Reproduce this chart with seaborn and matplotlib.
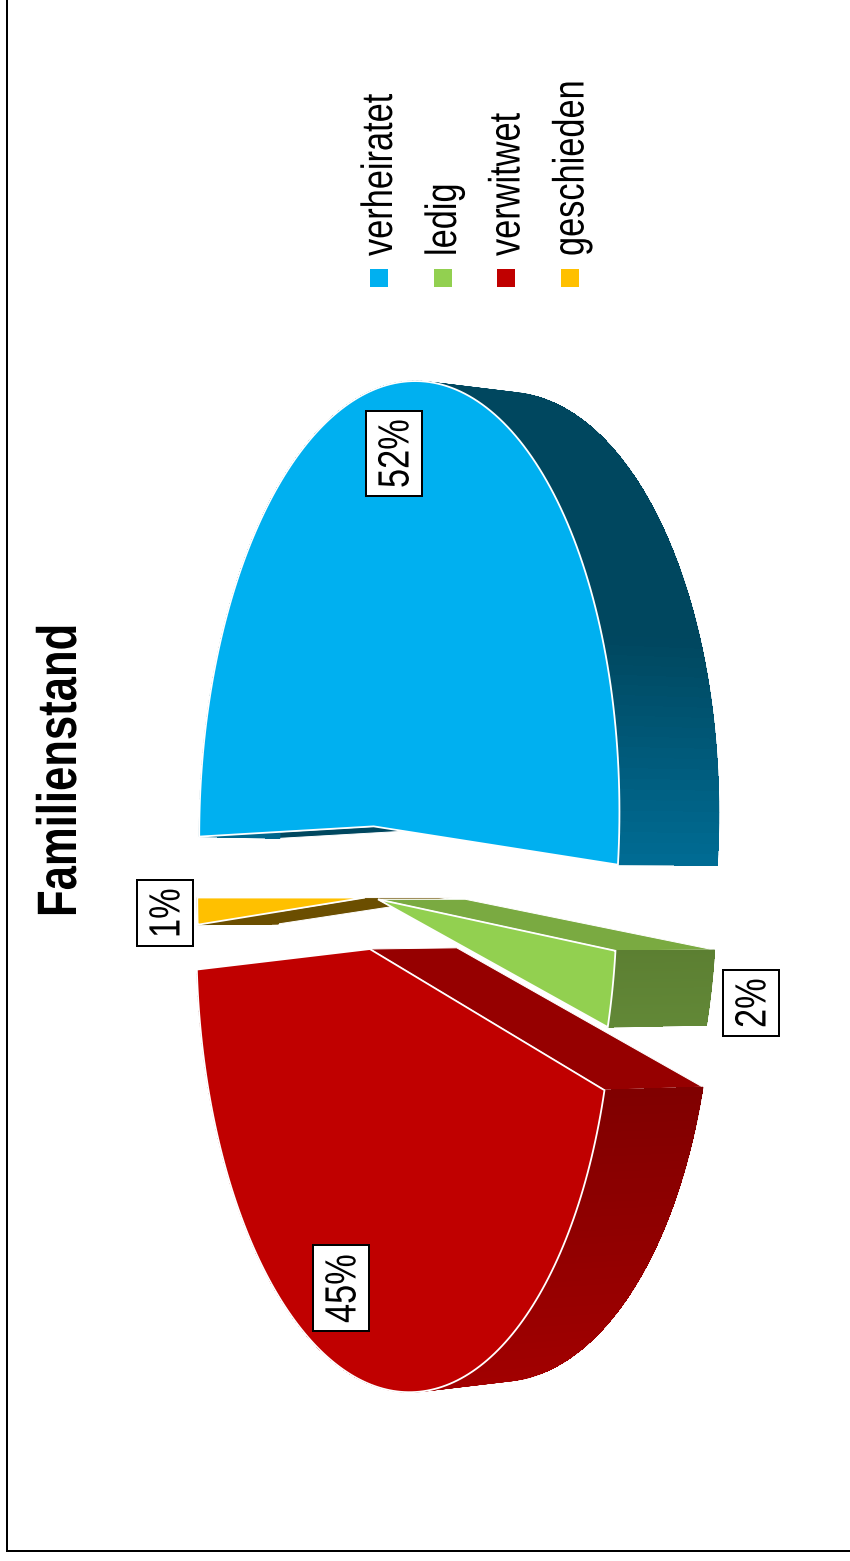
import numpy as np
import matplotlib
matplotlib.use('Agg')
import matplotlib.pyplot as plt
import matplotlib.colors as mcolors
from matplotlib.patches import Rectangle
from matplotlib.patheffects import AbstractPathEffect
from matplotlib.transforms import Affine2D
import seaborn as sns

# data
categories = ['verheiratet', 'ledig', 'verwitwet', 'geschieden']
values = [51.6, 2.45, 44.75, 1.2]
face_hex = ['#00B0F0', '#92D050', '#C00000', '#FFC000']
cut_hex = ['#00475F', '#7AAA41', '#960000', '#6B4E00']
side_top_hex = ['#00475F', '#5C7F32', '#800000', '#6B4E00']
side_bottom_hex = ['#006C94', '#628837', '#A20000', '#6B4E00']
explode = [0.162, 0.03, 0.12, 0.035]
radius = [1, 0.97, 1, 0.97]

sns.set_theme(style='white')
plt.rcParams['font.family'] = ['Liberation Sans', 'DejaVu Sans']
face_colors = sns.color_palette(face_hex)

W, H = 850, 1561
left, bottom = 7, 1551
fig = plt.figure(figsize=(W / 100, H / 100), dpi=100, facecolor='white')
ax = fig.add_axes([left / W, (H - bottom) / H, (W - left) / W, bottom / H])
ax.set_xlim(left, W)
ax.set_ylim(bottom, 0)
ax.set_xticks([])
ax.set_yticks([])
sns.despine(ax=ax)
for s in ['left', 'bottom']:
    ax.spines[s].set_linewidth(1.44)
    ax.spines[s].set_color('black')

# perspective of the disc: front face and back face
FRONT = dict(cx=372, cy=897, a=203.5, b=436, p=0.1695)
BACK = dict(cx=459, cy=897, a=212, b=426, p=0.176)


class Squeeze(AbstractPathEffect):
    # the reference is stretched sideways, so the rotated text is pressed along its length
    def __init__(self, f):
        super().__init__()
        self.f = f

    def draw_path(self, renderer, gc, tpath, affine, rgbFace=None):
        y0 = affine.get_matrix()[1, 2]
        a = affine + Affine2D().translate(0, -y0).scale(1, self.f).translate(0, y0)
        renderer.draw_path(gc, tpath, a, rgbFace)


squeeze = [Squeeze(0.785)]


def project(X, Y, cam):
    w = 1 - cam['p'] * X
    return cam['cx'] + cam['a'] * X / w, cam['cy'] + cam['b'] * Y / w


def wedge(t0, t1, ex, r, cam):
    # angle runs clockwise from the left of the picture
    mid = np.radians((t0 + t1) / 2)
    ox, oy = -np.cos(mid) * ex, -np.sin(mid) * ex
    t = np.radians(np.linspace(t0, t1, 160))
    xa, ya = project(ox - r * np.cos(t), oy - r * np.sin(t), cam)
    x0, y0 = project(ox, oy, cam)
    return (x0, y0), xa, ya


def side_color(i, y, y0, y1):
    c0 = np.array(mcolors.to_rgb(side_top_hex[i]))
    c1 = np.array(mcolors.to_rgb(side_bottom_hex[i]))
    f = np.clip((y - y0) / (y1 - y0), 0, 1)
    return tuple(c0 + (c1 - c0) * f)


angles = np.cumsum([0] + values) * 3.6
grad_range = [(640, 865), (950, 1027), (1090, 1390), (897, 925)]

# back to front: yellow, red, green, blue
for rank, i in enumerate([3, 2, 1, 0]):
    z = 2 + rank * 0.1
    t0, t1 = angles[i], angles[i + 1]
    af, xf, yf = wedge(t0, t1, explode[i], radius[i], FRONT)
    ab, xb, yb = wedge(t0, t1, explode[i], radius[i], BACK)

    # the two cut faces, the hidden one first
    for k in [-1, 0]:
        ax.fill([af[0], ab[0], xb[k], xf[k]], [af[1], ab[1], yb[k], yf[k]],
                facecolor=cut_hex[i], edgecolor='white', lw=0.7, zorder=z)

    # outer side: smooth rim first, then plain strips so no seams show
    quads = []
    for k in range(len(xf) - 1):
        qx = [xf[k], xf[k + 1], xb[k + 1], xb[k]]
        qy = [yf[k], yf[k + 1], yb[k + 1], yb[k]]
        quads.append((qx, qy, side_color(i, np.mean(qy), *grad_range[i])))
    for qx, qy, c in quads:
        ax.fill(qx, qy, facecolor=c, edgecolor=c, lw=0.6, zorder=z + 0.01)
    for qx, qy, c in quads:
        ax.fill(qx, qy, facecolor=c, edgecolor='none', lw=0, antialiased=False, zorder=z + 0.02)

    # front face
    ax.fill(np.r_[af[0], xf], np.r_[af[1], yf], facecolor=face_colors[i], edgecolor='white',
            lw=1.3, joinstyle='miter', zorder=z + 0.05)

# title
ax.text(62, 917, 'Familienstand', rotation=90, ha='center', va='bottom', fontsize=40,
        fontweight='bold', color='black', zorder=5, path_effects=squeeze)

# legend, standing on its side like the rest of the picture
legend_x = [378.5, 442.5, 506, 570]
for x, name, c in zip(legend_x, categories, face_colors):
    ax.scatter([x], [278], marker='s', s=150, color=c, linewidths=0, zorder=5)
    ax.text(x + 2, 256, name, rotation=90, ha='center', va='bottom', fontsize=31.5,
            color='black', zorder=5, path_effects=squeeze)

# percentage labels
label_x = [394, 751, 341, 165]
label_y = [453.5, 1003, 1288, 913]
box_h = [85, 66, 86, 66]
for x, y, h, v in zip(label_x, label_y, box_h, values):
    ax.add_patch(Rectangle((x - 28, y - h / 2), 56, h, fc='white', ec='black', lw=1.44, zorder=6))
    ax.text(x + 3, y + h / 2 - 8, f'{v:.0f}%', rotation=90, ha='center', va='bottom', fontsize=31.5,
            color='black', zorder=7, path_effects=squeeze)

fig.savefig('out.png', dpi=100, facecolor='white')
